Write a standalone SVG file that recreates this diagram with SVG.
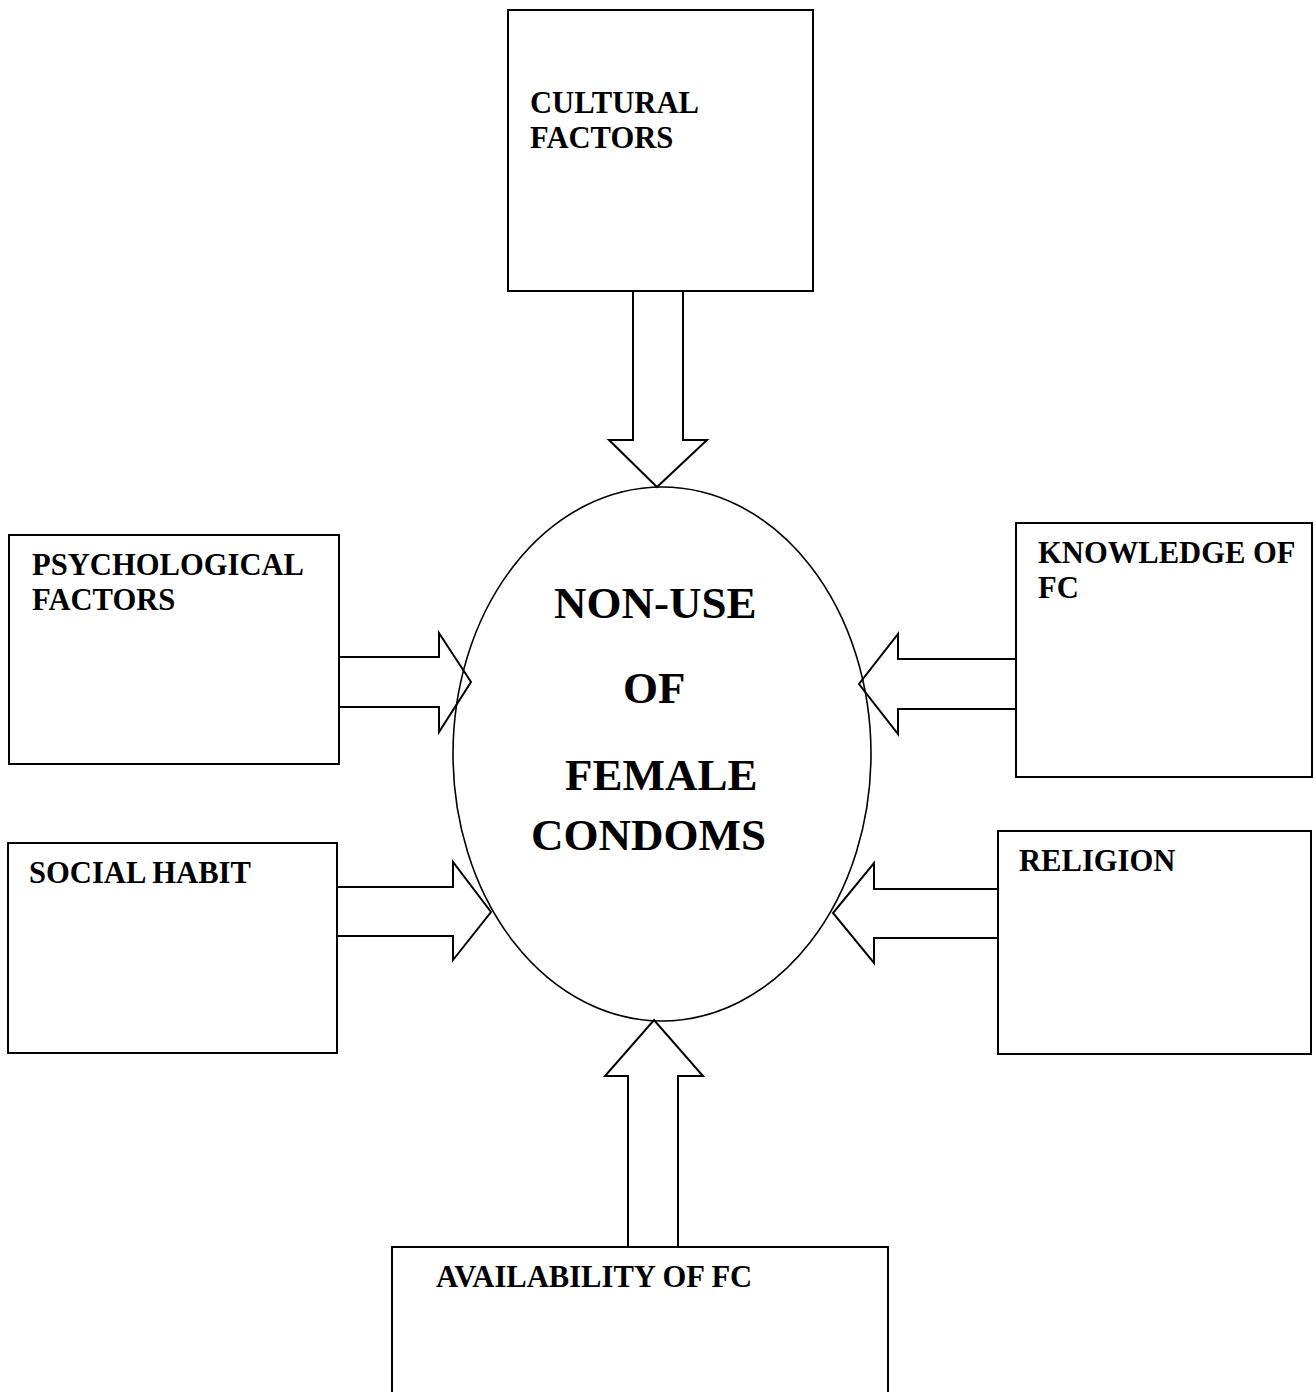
<svg xmlns="http://www.w3.org/2000/svg" width="1316" height="1392" viewBox="0 0 1316 1392">
<style>
.box{fill:#fff;stroke:#000;stroke-width:2}
.lbl{font-family:"Liberation Serif","Times New Roman",serif;font-weight:bold;font-size:30.6px;fill:#000}
.big{font-family:"Liberation Serif","Times New Roman",serif;font-weight:bold;font-size:45px;fill:#000}
.arr{fill:none;stroke:#000;stroke-width:2;stroke-linejoin:miter}
.ell{fill:#fff;stroke:#000;stroke-width:1.6}
</style>
<rect width="1316" height="1392" fill="#fff"/>
<g id="center">
<ellipse class="ell" cx="662" cy="754" rx="209" ry="267"/>
<text class="big" x="554" y="618">NON-USE</text>
<text class="big" x="623" y="703">OF</text>
<text class="big" x="565" y="790">FEMALE</text>
<text class="big" x="531" y="850">CONDOMS</text>
</g>
<g id="cultural">
<rect class="box" x="508" y="10" width="305" height="281"/>
<text class="lbl" x="530" y="113">CULTURAL</text>
<text class="lbl" x="530" y="148">FACTORS</text>
</g>
<g id="psychological">
<rect class="box" x="9" y="535" width="330" height="229"/>
<text class="lbl" x="32" y="575">PSYCHOLOGICAL</text>
<text class="lbl" x="32" y="610">FACTORS</text>
</g>
<g id="social">
<rect class="box" x="8" y="843" width="329" height="210"/>
<text class="lbl" x="29" y="883">SOCIAL HABIT</text>
</g>
<g id="knowledge">
<rect class="box" x="1016" y="523" width="296" height="254"/>
<text class="lbl" x="1038" y="563">KNOWLEDGE OF</text>
<text class="lbl" x="1038" y="598">FC</text>
</g>
<g id="religion">
<rect class="box" x="998" y="831" width="313" height="223"/>
<text class="lbl" x="1019" y="871">RELIGION</text>
</g>
<g id="availability">
<rect class="box" x="392" y="1247" width="496" height="160"/>
<text class="lbl" x="436" y="1287">AVAILABILITY OF FC</text>
</g>
<g id="connectors">
<polyline class="arr" points="633,291 633,440 609,440 657,487 707,440 683,440 683,291"/>
<polyline class="arr" points="339,657 439,657 439,633 471,682 439,732 439,707 339,707"/>
<polyline class="arr" points="337,887 453,887 453,862 491,912 453,960 453,936 337,936"/>
<polyline class="arr" points="1016,659 898,659 898,634 859,684 898,734 898,709 1016,709"/>
<polyline class="arr" points="998,889 874,889 874,863 833,913 874,963 874,938 998,938"/>
<polyline class="arr" points="628,1247 628,1076 605,1076 654,1020 703,1076 678,1076 678,1247"/>
</g>
</svg>
